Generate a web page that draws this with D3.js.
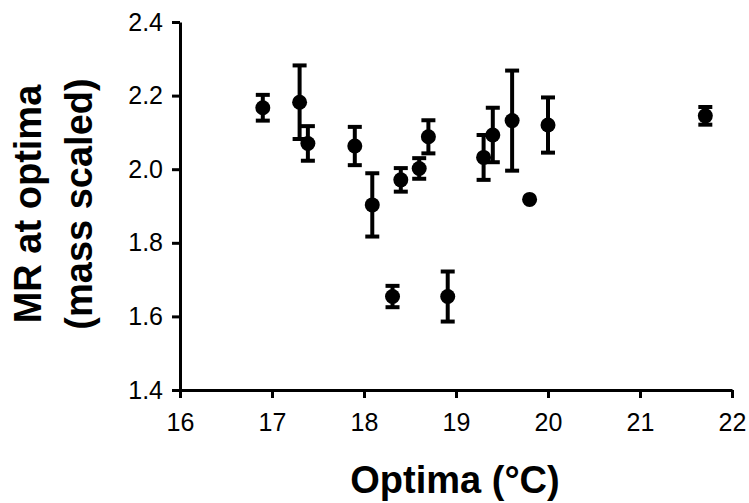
<!DOCTYPE html>
<html>
<head>
<meta charset="utf-8">
<script src="https://d3js.org/d3.v7.min.js"></script>
<style>
  body { margin: 0; background: #fff; }
  text { font-family: "Liberation Sans", Arial, sans-serif; }
</style>
</head>
<body>
<script>
// optima temperature (x), mass scaled MR (y) and error (SEM)
var optima = [16.9, 17.3, 17.39, 17.9, 18.09, 18.4, 18.6, 18.7, 18.31, 18.91, 19.3, 19.4, 19.61, 19.8, 20.0, 21.71];
var mr     = [2.167, 2.182, 2.07, 2.063, 1.903, 1.971, 2.002, 2.088, 1.654, 1.654, 2.032, 2.093, 2.132, 1.918, 2.12, 2.145];
var err    = [0.035, 0.10, 0.047, 0.052, 0.086, 0.032, 0.028, 0.045, 0.029, 0.068, 0.061, 0.074, 0.136, 0, 0.075, 0.024];
var xTicks = [16, 17, 18, 19, 20, 21, 22];
var yTicks = [1.4, 1.6, 1.8, 2.0, 2.2, 2.4];

var w = 749, h = 503;
var mLeft = 180, mRight = 732, mTop = 22, mBottom = 390;

var svg = d3.select("body").append("svg")
    .attr("width", w)
    .attr("height", h);

var xScale = d3.scaleLinear().domain([16, 22]).range([mLeft, mRight]);
var yScale = d3.scaleLinear().domain([1.4, 2.4]).range([mBottom, mTop]);

var data = optima.map(function (d, i) {
    return { x: d, y: mr[i], e: err[i] };
});

// axes
var xAxis = d3.axisBottom(xScale).tickValues(xTicks).tickSize(8).tickSizeOuter(0)
    .tickFormat(d3.format("d"));
var yAxis = d3.axisLeft(yScale).tickValues(yTicks).tickSize(8).tickSizeOuter(0)
    .tickFormat(d3.format(".1f"));

var gx = svg.append("g")
    .attr("transform", "translate(0," + mBottom + ")")
    .call(xAxis);
var gy = svg.append("g")
    .attr("transform", "translate(" + mLeft + ",0)")
    .call(yAxis);

[gx, gy].forEach(function (g) {
    g.attr("font-size", 25).attr("font-family", "Liberation Sans, Arial, sans-serif");
    g.select(".domain").attr("stroke", "#000").attr("stroke-width", 3);
    g.selectAll(".tick line").attr("stroke", "#000").attr("stroke-width", 3);
    g.selectAll(".tick text").attr("fill", "#000");
});
gx.selectAll(".tick text").attr("dy", "0.71em").attr("y", 23);
gy.selectAll(".tick text").attr("x", -17);

// error bars
var capW = 7;
var bars = svg.append("g").selectAll("g")
    .data(data.filter(function (d) { return d.e > 0; }))
    .enter().append("g")
    .attr("stroke", "#000")
    .attr("stroke-width", 4);

bars.append("line")
    .attr("x1", function (d) { return xScale(d.x); })
    .attr("x2", function (d) { return xScale(d.x); })
    .attr("y1", function (d) { return yScale(d.y - d.e); })
    .attr("y2", function (d) { return yScale(d.y + d.e); });
bars.append("line")
    .attr("x1", function (d) { return xScale(d.x) - capW; })
    .attr("x2", function (d) { return xScale(d.x) + capW; })
    .attr("y1", function (d) { return yScale(d.y + d.e); })
    .attr("y2", function (d) { return yScale(d.y + d.e); });
bars.append("line")
    .attr("x1", function (d) { return xScale(d.x) - capW; })
    .attr("x2", function (d) { return xScale(d.x) + capW; })
    .attr("y1", function (d) { return yScale(d.y - d.e); })
    .attr("y2", function (d) { return yScale(d.y - d.e); });

// points
svg.append("g").selectAll("circle")
    .data(data)
    .enter().append("circle")
    .attr("cx", function (d) { return xScale(d.x); })
    .attr("cy", function (d) { return yScale(d.y); })
    .attr("r", 7.5)
    .attr("fill", "#000");

// axis titles
svg.append("text")
    .attr("x", 455)
    .attr("y", 493)
    .attr("text-anchor", "middle")
    .style("font-size", "38px")
    .style("font-weight", "bold")
    .text("Optima (\u00B0C)");

var yt = svg.append("text")
    .attr("transform", "translate(0," + 204 + ") rotate(-90)")
    .attr("text-anchor", "middle")
    .style("font-size", "38px")
    .style("font-weight", "bold");
yt.append("tspan").attr("x", 0).attr("y", 41).text("MR at optima");
yt.append("tspan").attr("x", 0).attr("y", 92).text("(mass scaled)");
</script>
</body>
</html>
